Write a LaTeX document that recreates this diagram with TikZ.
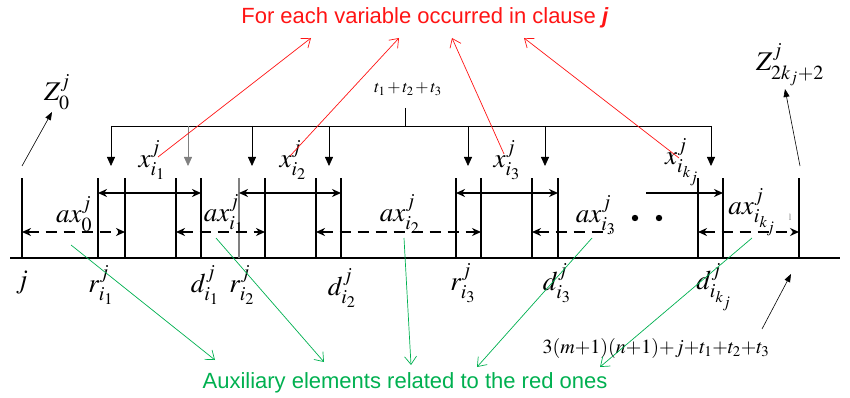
\documentclass[tikz,border=0pt]{standalone}
\usepackage{mathptmx}
\usepackage{fontspec}
\setmainfont{Liberation Serif}
\newfontfamily\arialfont{Liberation Sans}
\usetikzlibrary{arrows.meta}
\definecolor{redc}{RGB}{255,20,20}
\definecolor{grnc}{RGB}{0,176,80}
\begin{document}
\begin{tikzpicture}[x=1pt,y=-1pt,
  bar/.style={line width=2.6pt},
  graybar/.style={line width=1.4pt, gray},
  baseline/.style={line width=2.8pt},
  solidarr/.style={line width=2.3pt, {Stealth[length=9pt,width=8pt]}-{Stealth[length=9pt,width=8pt]}},
  solidrt/.style={line width=2.3pt, -{Stealth[length=9pt,width=8pt]}},
  dasharr/.style={line width=2.3pt, dash pattern=on 11pt off 7pt, {Stealth[length=9pt,width=8pt]}-{Stealth[length=9pt,width=8pt]}},
  dashlt/.style={line width=2.3pt, dash pattern=on 11pt off 7pt, {Stealth[length=9pt,width=8pt]}-},
  downarr/.style={line width=0.8pt, -{Triangle[length=9pt,width=8pt]}},
  bracket/.style={line width=0.8pt},
  redarr/.style={draw=redc, line width=0.7pt, -{Straight Barb[length=8pt,width=12pt]}},
  grnarr/.style={draw=grnc, line width=0.7pt, -{Straight Barb[length=8pt,width=12pt]}},
  thinarr/.style={line width=0.6pt, -{Triangle[length=8pt,width=6pt]}},
  lab/.style={font=\fontsize{27}{27}\selectfont, inner sep=0pt},
  smlab/.style={font=\fontsize{17}{17}\selectfont, inner sep=0pt},
  title/.style={font=\arialfont\fontsize{22}{22}\selectfont, inner sep=0pt}
]
\useasboundingbox (0,0) rectangle (850,398);

% baseline
\coordinate (L) at (10,258);
\coordinate (R) at (840,258);
\draw[baseline] (L) -- (R);

% vertical bars
\foreach \n/\x in {a/22,b/98,c/125,d/176,e/201,g/265,h/316,i/341,k/456,l/481,m/532,n/558,o/698,p/723,q/799}{
  \coordinate (\n0) at (\x,258);
  \coordinate (\n1) at (\x,178);
  \draw[bar] (\n0) -- (\n1);
}
\coordinate (f0) at (239,258);
\coordinate (f1) at (239,178);
\draw[graybar] (f0) -- (f1);

% solid arrows (x intervals)
\coordinate (s1a) at (98,193);  \coordinate (s1b) at (201,193);
\coordinate (s2a) at (239,193); \coordinate (s2b) at (341,193);
\coordinate (s3a) at (456,193); \coordinate (s3b) at (558,193);
\coordinate (s4a) at (646,193); \coordinate (s4b) at (723,193);
\draw[solidarr] (s1a) -- (s1b);
\draw[solidarr] (s2a) -- (s2b);
\draw[solidarr] (s3a) -- (s3b);
\draw[solidrt] (s4a) -- (s4b);

% dashed arrows (auxiliary)
\coordinate (d1a) at (22,232);  \coordinate (d1b) at (125,232);
\coordinate (d2a) at (176,232); \coordinate (d2b) at (265,232);
\coordinate (d3a) at (316,232); \coordinate (d3b) at (481,232);
\coordinate (d4a) at (532,232); \coordinate (d4b) at (611,232);
\coordinate (d5a) at (698,232); \coordinate (d5b) at (799,232);
\draw[dasharr] (d1a) -- (d1b);
\draw[dasharr] (d2a) -- (d2b);
\draw[dasharr] (d3a) -- (d3b);
\draw[dashlt] (d4a) -- (d4b);
\draw[dasharr] (d5a) -- (d5b);

% dots
\fill (635,218) circle (3.2pt);
\fill (659,218) circle (3.2pt);

% bracket with t1+t2+t3
\node[smlab] (tsum) at (408,89) {$\medmuskip=2mu t_1+t_2+t_3$};
\coordinate (stem) at (405,108);
\coordinate (bj) at (405,126);
\coordinate (bl) at (111,126);
\coordinate (br) at (711,126);
\draw[bracket] (stem) -- (bj);
\draw[bracket] (bl) -- (br);
\foreach \x in {111,252,329,468,545,711}{
  \coordinate (dt\x) at (\x,126);
  \coordinate (db\x) at (\x,166);
  \draw[downarr] (dt\x) -- (db\x);
}
\coordinate (dt188) at (188,126);
\coordinate (db188) at (188,166);
\draw[downarr, draw=gray, fill=gray] (dt188) -- (db188);

% x labels
\node[lab] (x1) at (152,160) {$x^{j}_{i_1}$};
\node[lab] (x2) at (293,160) {$x^{j}_{i_2}$};
\node[lab] (x3) at (507,160) {$x^{j}_{i_3}$};
\node[lab] (x4) at (682,162) {$x^{j}_{i_{k_j}}$};

% ax labels
\node[lab] (ax0) at (74,214) {$ax^{j}_{0}$};
\node[lab] (ax1) at (224,214) {$ax^{j}_{i_1}$};
\node[lab] (ax2) at (400,214) {$ax^{j}_{i_2}$};
\node[lab] (ax3) at (596,215) {$ax^{j}_{i_3}$};
\node[lab] (ax4) at (752,212) {$ax^{j}_{i_{k_j}}$};
\node[inner sep=0pt, font=\fontsize{9}{9}\selectfont, gray] (tick) at (790,217) {l};

% bottom labels
\node[lab] (jl) at (22,283) {$j$};
\node[lab] (r1) at (101,285) {$r^{j}_{i_1}$};
\node[lab] (dd1) at (205,285) {$d^{j}_{i_1}$};
\node[lab] (r2) at (242,285) {$r^{j}_{i_2}$};
\node[lab] (dd2) at (342,288) {$d^{j}_{i_2}$};
\node[lab] (r3) at (463,283) {$r^{j}_{i_3}$};
\node[lab] (dd3) at (557,283) {$d^{j}_{i_3}$};
\node[lab] (dd4) at (714,287) {$d^{j}_{i_{k_j}}$};

% z labels
\node[lab] (z0) at (57,92) {$Z^{j}_{0}$};
\node[lab] (z1) at (790,65) {$Z^{j}_{2k_j+2}$};
\coordinate (z0s) at (22,166);
\coordinate (z0e) at (52,112);
\draw[thinarr] (z0s) -- (z0e);
\coordinate (z1s) at (800,166);
\coordinate (z1e) at (785,89);
\draw[thinarr] (z1s) -- (z1e);

% formula
\node[inner sep=0pt, font=\fontsize{20}{20}\selectfont] (form) at (656,348) {$\medmuskip=0mu 3(m+1)(n+1)+j+t_1+t_2+t_3$};
\coordinate (fs) at (762,329);
\coordinate (fe) at (791,274);
\draw[thinarr] (fs) -- (fe);

% titles
\node[title, text=redc] (red) at (425,18) {For each variable occurred in clause \textbf{\textit{j}}};
\node[title, text=grnc] (grn) at (405,383) {Auxiliary elements related to the red ones};

% red arrows
\coordinate (rs1) at (158,157); \coordinate (re1) at (311,38);
\coordinate (rs2) at (290,156); \coordinate (re2) at (399,38);
\coordinate (rs3) at (504,154); \coordinate (re3) at (452,38);
\coordinate (rs4) at (679,158); \coordinate (re4) at (524,38);
\draw[redarr] (rs1) -- (re1);
\draw[redarr] (rs2) -- (re2);
\draw[redarr] (rs3) -- (re3);
\draw[redarr] (rs4) -- (re4);

% green arrows
\coordinate (gs1) at (71,245);  \coordinate (ge1) at (215,360);
\coordinate (gs2) at (216,238); \coordinate (ge2) at (324,362);
\coordinate (gs3) at (404,238); \coordinate (ge3) at (411,365);
\coordinate (gs4) at (592,238); \coordinate (ge4) at (477,367);
\coordinate (gs5) at (752,238); \coordinate (ge5) at (600,367);
\draw[grnarr] (gs1) -- (ge1);
\draw[grnarr] (gs2) -- (ge2);
\draw[grnarr] (gs3) -- (ge3);
\draw[grnarr] (gs4) -- (ge4);
\draw[grnarr] (gs5) -- (ge5);
\end{tikzpicture}
\end{document}
